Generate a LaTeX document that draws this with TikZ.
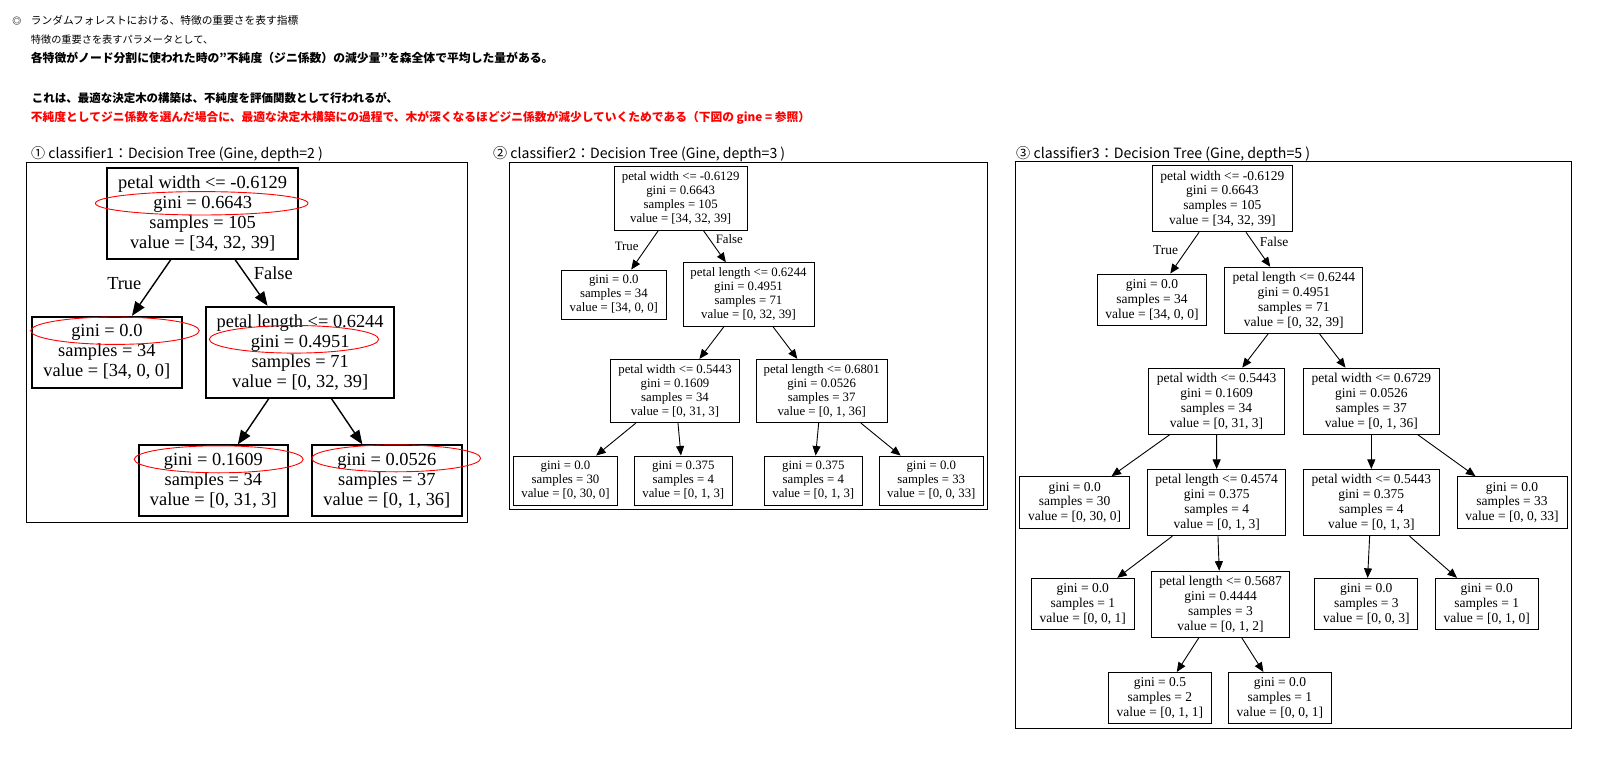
\documentclass[tikz,border=0pt]{standalone}
\usepackage{fontspec}
\usepackage{graphicx}
\setmainfont{Liberation Serif}
\newfontfamily\jp{Noto Sans CJK JP}
\newfontfamily\tms{Liberation Serif}
\usetikzlibrary{arrows.meta}
\definecolor{note}{RGB}{255,0,0}
% a line of text set to a given width
\newcommand{\fitto}[2]{\resizebox{#1pt}{!}{#2}}
\begin{document}
\begin{tikzpicture}[x=1pt,y=-1pt,
  hdr/.style={anchor=west, inner sep=0pt, font=\jp\fontsize{11}{13}\selectfont},
  hdrb/.style={hdr, font=\jp\bfseries\fontsize{11}{13}\selectfont},
  ttl/.style={anchor=west, inner sep=0pt, font=\jp\fontsize{13}{15}\selectfont},
  frm/.style={draw, line width=0.9pt},
  sz/.style 2 args={minimum width=#1pt, minimum height=#2pt},
  ta/.style={draw, line width=1.8pt, align=center, inner sep=0pt, font=\tms\fontsize{18.4}{20}\selectfont},
  tb/.style={draw, line width=0.9pt, align=center, inner sep=0pt, font=\tms\fontsize{12.8}{14}\selectfont},
  tc/.style={draw, line width=0.9pt, align=center, inner sep=0pt, font=\tms\fontsize{13.5}{14.85}\selectfont},
  la/.style={inner sep=0pt, font=\tms\fontsize{18.4}{20}\selectfont},
  lb/.style={inner sep=0pt, font=\tms\fontsize{12.8}{14}\selectfont},
  lc/.style={inner sep=0pt, font=\tms\fontsize{13.5}{14.85}\selectfont},
  ea/.style={line width=1.4pt, -{Triangle[length=14pt,width=11pt]}},
  eb/.style={line width=0.9pt, -{Triangle[length=9.5pt,width=8pt]}},
  ring/.style={draw=note, line width=0.9pt}]
\useasboundingbox[fill=white] (0,0) rectangle (1597,757);

% ---- heading text ----
\node[inner sep=0pt, font=\jp\bfseries\fontsize{9}{10}\selectfont] (bullet) at (17,20.7) {◎};
\node[hdr] (h1) at (30.7,20.7) {\fitto{267.3}{ランダムフォレストにおける、特徴の重要さを表す指標}};
\node[hdr] (h2) at (30.7,40) {\fitto{182.3}{特徴の重要さを表すパラメータとして、}};
\node[hdrb] (h3) at (30.7,58.3) {\fitto{522.6}{各特徴がノード分割に使われた時の”不純度（ジニ係数）の減少量”を森全体で平均した量がある。}};
\node[hdrb] (h4) at (31.7,98.3) {\fitto{366.3}{これは、最適な決定木の構築は、不純度を評価関数として行われるが、}};
\node[hdrb, text=note] (h5) at (30.7,117.3) {\fitto{779.3}{不純度としてジニ係数を選んだ場合に、最適な決定木構築にの過程で、木が深くなるほどジニ係数が減少していくためである（下図の gine = 参照）}};

% ---- tree 1: depth 2 ----
\node[ttl] (t1) at (31,154.3) {\fitto{291.7}{①\ classifier1：Decision Tree (Gine, depth=2 )}};
\draw[frm] (26.7,162.7) rectangle (467,522.3);
\node[ta, sz={190.7}{90.4}] (a0) at (202.65,213.5) {petal width <= -0.6129\\gini = 0.6643\\samples = 105\\value = [34, 32, 39]};
\node[ta, sz={149.7}{71}] (a1) at (106.85,352.2) {gini = 0.0\\samples = 34\\value = [34, 0, 0]};
\node[ta, sz={188.3}{91}] (a2) at (300.15,352.2) {petal length <= 0.6244\\gini = 0.4951\\samples = 71\\value = [0, 32, 39]};
\node[ta, sz={149.3}{70.7}] (a3) at (213.35,480.65) {gini = 0.1609\\samples = 34\\value = [0, 31, 3]};
\node[ta, sz={149.7}{70.7}] (a4) at (386.85,480.65) {gini = 0.0526\\samples = 37\\value = [0, 1, 36]};
\draw[ea] (a0) -- (a1);
\draw[ea] (a0) -- (a2);
\draw[ea] (a2) -- (a3);
\draw[ea] (a2) -- (a4);
\node[la] (aT) at (124.3,283.3) {True};
\node[la] (aF) at (273.3,273.3) {False};
% gini values ringed in red
\draw[ring] (201.7,203.3) ellipse (106.3 and 11.7);
\draw[ring] (115,330.7) ellipse (84.3 and 13.7);
\draw[ring] (294,339.3) ellipse (84.7 and 13.8);
\draw[ring] (218.7,459.3) ellipse (84.5 and 13.5);
\draw[ring] (396.2,458.3) ellipse (84.5 and 13.5);

% ---- tree 2: depth 3 ----
\node[ttl] (t2) at (493,154.3) {\fitto{292}{②\ classifier2：Decision Tree (Gine, depth=3 )}};
\draw[frm] (509.3,162.7) rectangle (987.7,509.3);
\node[tb, sz={133.3}{63.3}] (b0) at (680.65,198.35) {petal width <= -0.6129\\gini = 0.6643\\samples = 105\\value = [34, 32, 39]};
\node[tb, sz={104.3}{49.3}] (b1) at (613.85,294.65) {gini = 0.0\\samples = 34\\value = [34, 0, 0]};
\node[tb, sz={131}{63.3}] (b2) at (748.5,294.35) {petal length <= 0.6244\\gini = 0.4951\\samples = 71\\value = [0, 32, 39]};
\node[tb, sz={129.4}{63.4}] (b3) at (675,391) {petal width <= 0.5443\\gini = 0.1609\\samples = 34\\value = [0, 31, 3]};
\node[tb, sz={131.3}{63.4}] (b4) at (821.65,391) {petal length <= 0.6801\\gini = 0.0526\\samples = 37\\value = [0, 1, 36]};
\node[tb, sz={104.4}{49.3}] (b5) at (565.5,480.65) {gini = 0.0\\samples = 30\\value = [0, 30, 0]};
\node[tb, sz={98}{49.3}] (b6) at (683.3,480.65) {gini = 0.375\\samples = 4\\value = [0, 1, 3]};
\node[tb, sz={98}{49.3}] (b7) at (813.3,480.65) {gini = 0.375\\samples = 4\\value = [0, 1, 3]};
\node[tb, sz={104}{49.3}] (b8) at (931.3,480.65) {gini = 0.0\\samples = 33\\value = [0, 0, 33]};
\draw[eb] (b0) -- (b1);
\draw[eb] (b0) -- (b2);
\draw[eb] (b2) -- (b3);
\draw[eb] (b2) -- (b4);
\draw[eb] (b3) -- (b5);
\draw[eb] (b3) -- (b6);
\draw[eb] (b4) -- (b7);
\draw[eb] (b4) -- (b8);
\node[lb] (bT) at (626.7,246.7) {True};
\node[lb] (bF) at (729.3,239.3) {False};

% ---- tree 3: depth 5 ----
\node[ttl] (t3) at (1016,154.5) {\fitto{294}{③\ classifier3：Decision Tree (Gine, depth=5 )}};
\draw[frm] (1015.2,161.7) rectangle (1571.2,728.3);
\node[tc, sz={140.2}{66.3}] (c0) at (1222.4,198.65) {petal width <= -0.6129\\gini = 0.6643\\samples = 105\\value = [34, 32, 39]};
\node[tc, sz={109.7}{51.8}] (c1) at (1151.95,299.9) {gini = 0.0\\samples = 34\\value = [34, 0, 0]};
\node[tc, sz={138.2}{66.3}] (c2) at (1293.8,300.35) {petal length <= 0.6244\\gini = 0.4951\\samples = 71\\value = [0, 32, 39]};
\node[tc, sz={136}{66.3}] (c3) at (1216.5,401.25) {petal width <= 0.5443\\gini = 0.1609\\samples = 34\\value = [0, 31, 3]};
\node[tc, sz={136.4}{66.3}] (c4) at (1371.3,401.25) {petal width <= 0.6729\\gini = 0.0526\\samples = 37\\value = [0, 1, 36]};
\node[tc, sz={109.7}{51.8}] (c5) at (1074.65,502.5) {gini = 0.0\\samples = 30\\value = [0, 30, 0]};
\node[tc, sz={137.8}{66.3}] (c6) at (1216.7,502.55) {petal length <= 0.4574\\gini = 0.375\\samples = 4\\value = [0, 1, 3]};
\node[tc, sz={136.4}{66.3}] (c7) at (1371.3,502.55) {petal width <= 0.5443\\gini = 0.375\\samples = 4\\value = [0, 1, 3]};
\node[tc, sz={110}{51.8}] (c8) at (1512,502.5) {gini = 0.0\\samples = 33\\value = [0, 0, 33]};
\node[tc, sz={103.2}{51.4}] (c9) at (1082.8,604) {gini = 0.0\\samples = 1\\value = [0, 0, 1]};
\node[tc, sz={137.8}{66.2}] (c10) at (1220.5,604.2) {petal length <= 0.5687\\gini = 0.4444\\samples = 3\\value = [0, 1, 2]};
\node[tc, sz={102.8}{51.4}] (c11) at (1366.3,604) {gini = 0.0\\samples = 3\\value = [0, 0, 3]};
\node[tc, sz={102.8}{51.4}] (c12) at (1486.7,604) {gini = 0.0\\samples = 1\\value = [0, 1, 0]};
\node[tc, sz={102.8}{51.4}] (c13) at (1159.9,698.1) {gini = 0.5\\samples = 2\\value = [0, 1, 1]};
\node[tc, sz={102.8}{51.4}] (c14) at (1279.9,698.1) {gini = 0.0\\samples = 1\\value = [0, 0, 1]};
\draw[eb] (c0) -- (c1);
\draw[eb] (c0) -- (c2);
\draw[eb] (c2) -- (c3);
\draw[eb] (c2) -- (c4);
\draw[eb] (c3) -- (c5);
\draw[eb] (c3) -- (c6);
\draw[eb] (c4) -- (c7);
\draw[eb] (c4) -- (c8);
\draw[eb] (c6) -- (c9);
\draw[eb] (c6) -- (c10);
\draw[eb] (c7) -- (c11);
\draw[eb] (c7) -- (c12);
\draw[eb] (c10) -- (c13);
\draw[eb] (c10) -- (c14);
\node[lc] (cT) at (1165.6,249.7) {True};
\node[lc] (cF) at (1274.2,242.1) {False};
\end{tikzpicture}
\end{document}
